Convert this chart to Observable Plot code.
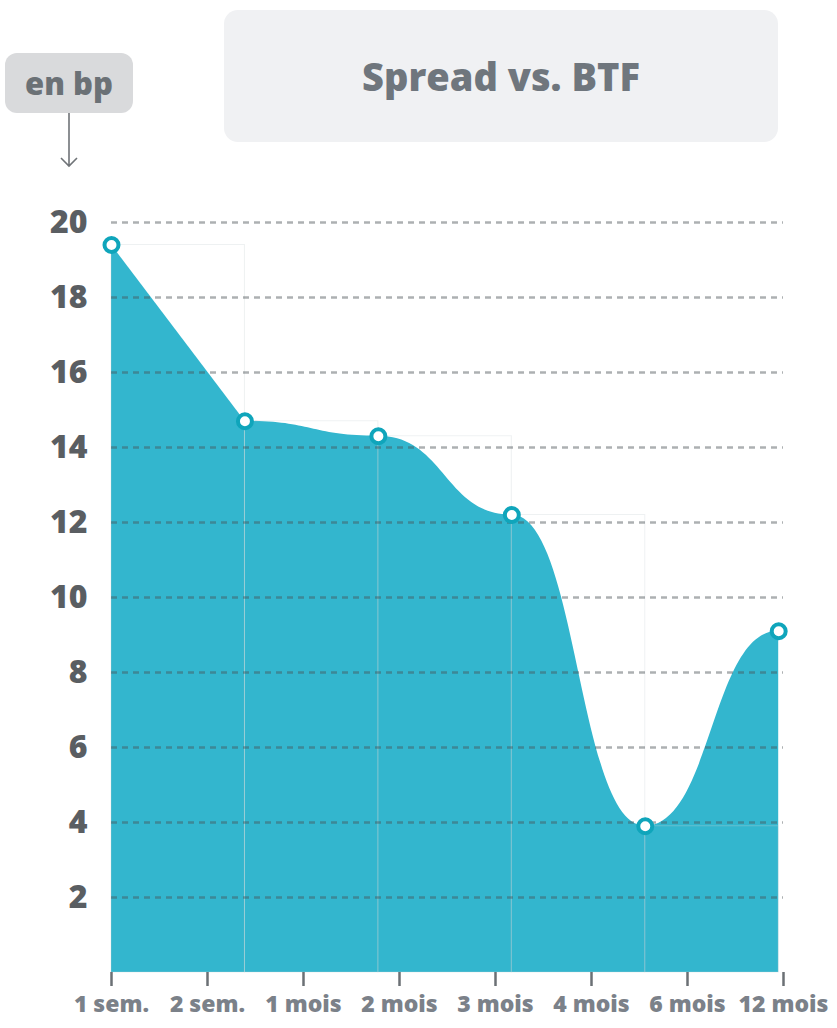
<!DOCTYPE html>
<html><head><meta charset="utf-8">
<script src="https://cdn.jsdelivr.net/npm/d3@7"></script>
<script src="https://cdn.jsdelivr.net/npm/@observablehq/plot@0.6"></script>
<style>
body{margin:0;background:#fff;}
#wrap{position:relative;width:837px;height:1028px;overflow:hidden;font-family:"Open Sans",sans-serif;}
#title{position:absolute;left:224px;top:10px;width:554px;height:132px;background:#f0f1f3;border-radius:14px;display:flex;align-items:center;justify-content:center;font-weight:800;font-size:38px;color:#6f767d;z-index:2;}
#unit{position:absolute;left:5px;top:53px;width:128px;height:60px;background:#d9dadc;border-radius:12px;display:flex;align-items:center;justify-content:center;font-weight:800;font-size:31px;color:#6b7176;z-index:2;}
#arrow{position:absolute;left:55px;top:113px;z-index:2;}
#chart{position:absolute;left:0;top:0;}
</style>
</head><body>
<div id="wrap">
  <div id="unit">en bp</div>
  <svg id="arrow" width="28" height="60"><path d="M14,0 V53 M6,45 L14,53 L22,45" stroke="#707478" stroke-width="1.6" fill="none"/></svg>
  <div id="title">Spread vs. BTF</div>
  <div id="chart"></div>
</div>
<script>
const tickLabels = ["1 sem.", "2 sem.", "1 mois", "2 mois", "3 mois", "4 mois", "6 mois", "12 mois"];
const tickPos = [0, 1, 2, 3, 4, 5, 6, 7];
const pointPos = [0, 1.39, 2.78, 4.17, 5.56, 6.95];
const spread = [19.4, 14.7, 14.3, 12.2, 3.9, 9.1];
const yTicks = [2, 4, 6, 8, 10, 12, 14, 16, 18, 20];

const data = pointPos.map((x, i) => ({x, y: spread[i]}));
const steps = data.slice(0, -1).map((d, i) => ({x1: d.x, x2: data[i + 1].x, y: d.y}));

const chart = Plot.plot({
  width: 837, height: 1028,
  marginLeft: 111, marginRight: 54, marginTop: 222, marginBottom: 56,
  style: {fontFamily: "'Open Sans', sans-serif", background: "transparent"},
  x: {domain: [0, 7]},
  y: {domain: [0, 20]},
  marks: [
    Plot.areaY(data.slice(0, 2), {x: "x", y: "y", curve: "linear", fill: "#33b6ce"}),
    Plot.areaY(data.slice(1), {x: "x", y: "y", curve: "bump-x", fill: "#33b6ce"}),
    Plot.rect(steps, {x1: "x1", x2: "x2", y1: 0, y2: "y", fill: "none", stroke: "#c9d3d8", strokeOpacity: 0.32, strokeWidth: 1}),
    Plot.ruleY(yTicks, {stroke: "#4a4f55", strokeOpacity: 0.45, strokeDasharray: "6,5", strokeWidth: 2.5}),
    Plot.axisY({ticks: yTicks, label: null, tickSize: 0, tickPadding: 24, fontSize: 32, fontWeight: 800, fill: "#5a5e62"}),
    Plot.axisX({ticks: tickPos, label: null, tickFormat: i => tickLabels[i], tickSize: 14, tickPadding: 9, fontSize: 23, fontWeight: 800, fill: "#7b8189", stroke: "#6b7075", strokeWidth: 2.5}),
    Plot.dot(data, {x: "x", y: "y", r: 7, fill: "white", stroke: "#0fa5bb", strokeWidth: 4})
  ]
});
document.getElementById("chart").appendChild(chart);
</script>
</body></html>
